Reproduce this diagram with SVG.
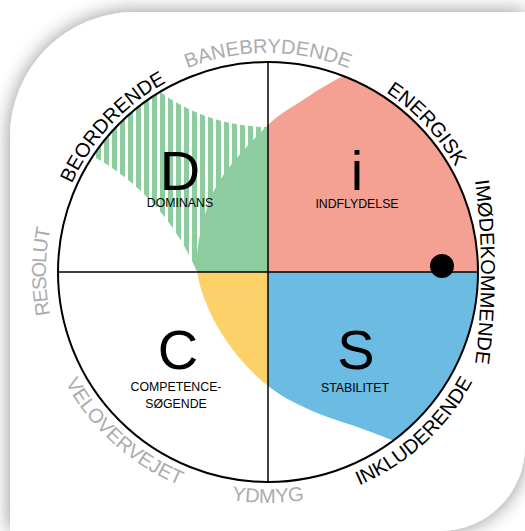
<svg xmlns="http://www.w3.org/2000/svg" width="525" height="531" viewBox="0 0 525 531">
<defs>
<style>
.arc{font-family:"Liberation Sans",Arial,sans-serif;font-size:20px}
.blk{fill:#000}
.gry{fill:#ABABAE}
.big{font-family:"Liberation Sans",Arial,sans-serif;font-size:56px;fill:#000;text-anchor:middle}
.sub{font-family:"Liberation Sans",Arial,sans-serif;font-size:12.3px;fill:#000;text-anchor:middle}
.ax{stroke:#000;stroke-width:1.5;fill:none}
</style>
<filter id="shadow" x="-10%" y="-10%" width="120%" height="120%">
<feGaussianBlur in="SourceAlpha" stdDeviation="10"/>
<feComponentTransfer><feFuncA type="linear" slope="0.45"/></feComponentTransfer>
<feMerge><feMergeNode/><feMergeNode in="SourceGraphic"/></feMerge>
</filter>
<clipPath id="circ"><circle cx="268" cy="272" r="210"/></clipPath>
<clipPath id="blob"><path d="M 400,52 L 343,76 C 326.3,84.3 312.5,93.8 300,102 C 287.5,110.2 281,112.5 268,125 C 255,137.5 232.8,160.8 222,177 C 211.2,193.2 207.2,206.8 203,222 C 198.8,237.2 196,253.3 197,268 C 198,282.7 203,296.3 209,310 C 215,323.7 223.2,337.3 233,350 C 242.8,362.7 255.2,376 268,386 C 280.8,396 294.7,403 310,410 C 325.3,417 346.3,423 360,428 C 373.7,433 380.3,435.5 392,440 L 430,455 L 620,470 L 620,20 L 410,20 Z"/></clipPath>
<pattern id="stripes" patternUnits="userSpaceOnUse" x="0" y="0" width="8" height="8"><rect width="5" height="8" fill="#8DCC9E"/></pattern>
<path id="tBAN" d="M 78.3 162.5 A 219 219 0 0 1 457.7 162.5"/>
<path id="tENE" d="M 219.6 62.5 A 215 215 0 0 1 473.6 334.9"/>
<path id="tIMO" d="M 438.8 32.6 A 700 700 0 0 1 438.8 511.4"/>
<path id="tBEO" d="M 62.4 334.9 A 215 215 0 0 1 316.4 62.5"/>
<path id="tRES" d="M 157 464.3 A 222 222 0 0 1 157 79.7"/>
<path id="tYDM" d="M 68 387.5 A 231 231 0 0 0 468 387.5"/>
<path id="tVEL" d="M 42.1 224 A 231 231 0 0 0 339.4 491.7"/>
<path id="tINK" d="M 198.2 493.3 A 232 232 0 0 0 494.5 221.8"/>
</defs>
<rect width="525" height="531" fill="#fff"/>
<path id="card" d="M 10,137 A 125 125 0 0 1 135,12 L 525,12 L 525,446 A 85 85 0 0 1 440,531 L 10,531 Z" fill="#fff" filter="url(#shadow)"/>
<g id="wheel">
<g clip-path="url(#circ)">
<path id="stripe-area" d="M 93,156 A 210 210 0 0 1 160,92 A 188.5 188.5 0 0 0 268,127 L 268,272 L 197,272 A 237 237 0 0 0 93,156 Z" fill="url(#stripes)"/>
<g clip-path="url(#blob)">
<rect id="fill-D" x="0" y="0" width="268" height="272" fill="#8DCC9E"/>
<rect id="fill-i" x="268" y="0" width="300" height="272" fill="#F4A092"/>
<rect id="fill-C" x="0" y="272" width="268" height="300" fill="#FDD16A"/>
<rect id="fill-S" x="268" y="272" width="300" height="300" fill="#6CBBE3"/>
</g>
</g>
<circle cx="268" cy="272" r="210" fill="none" stroke="#000" stroke-width="2"/>
<line class="ax" x1="268" y1="62" x2="268" y2="482"/>
<line class="ax" x1="58" y1="272" x2="478" y2="272"/>
</g>
<g id="node-D"><text class="big" x="180" y="190">D</text><text class="sub" x="180" y="207">DOMINANS</text></g>
<g id="node-i"><text class="big" x="357" y="190">i</text><text class="sub" x="357" y="208">INDFLYDELSE</text></g>
<g id="node-C"><text class="big" x="178" y="369">C</text><text class="sub" x="176" y="391">COMPETENCE-</text><text class="sub" x="176" y="408">SØGENDE</text></g>
<g id="node-S"><text class="big" x="356" y="369">S</text><text class="sub" x="355" y="392">STABILITET</text></g>
<g id="labels">
<text class="arc gry"><textPath href="#tBAN" startOffset="50%" text-anchor="middle">BANEBRYDENDE</textPath></text>
<text class="arc blk"><textPath href="#tENE" startOffset="50%" text-anchor="middle">ENERGISK</textPath></text>
<text class="arc blk"><textPath href="#tIMO" startOffset="50%" text-anchor="middle">IMØDEKOMMENDE</textPath></text>
<text class="arc blk"><textPath href="#tINK" startOffset="50%" text-anchor="middle">INKLUDERENDE</textPath></text>
<text class="arc gry"><textPath href="#tYDM" startOffset="50%" text-anchor="middle">YDMYG</textPath></text>
<text class="arc gry"><textPath href="#tVEL" startOffset="50%" text-anchor="middle">VELOVERVEJET</textPath></text>
<text class="arc gry" letter-spacing="-1.2"><textPath href="#tRES" startOffset="50%" text-anchor="middle">RESOLUT</textPath></text>
<text class="arc blk"><textPath href="#tBEO" startOffset="50%" text-anchor="middle">BEORDRENDE</textPath></text>
</g>
<circle id="marker-dot" cx="442" cy="266" r="12" fill="#000"/>
</svg>
